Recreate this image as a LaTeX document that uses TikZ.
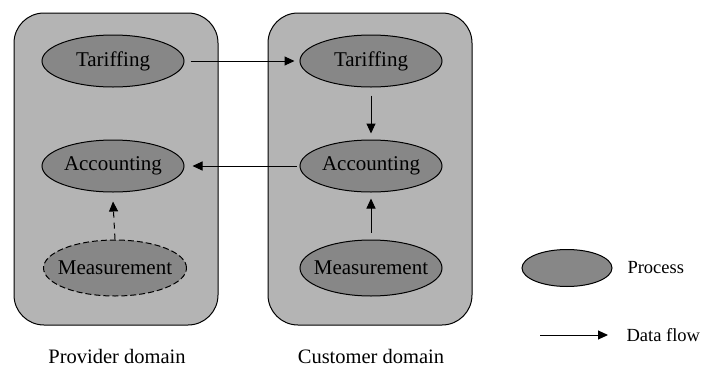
\documentclass[tikz,border=0pt]{standalone}
\usepackage{fontspec}
\setmainfont{Liberation Serif}
\usetikzlibrary{shapes.geometric,arrows.meta}
\definecolor{boxgray}{HTML}{B4B4B4}
\definecolor{procgray}{HTML}{878787}
\begin{document}
\begin{tikzpicture}[x=1pt,y=-1pt,
  domainbox/.style={draw=black, line width=1pt, fill=boxgray, rounded corners=30pt},
  proc/.style={ellipse, draw=black, line width=1pt, fill=procgray, minimum width=142pt, minimum height=52pt, inner xsep=-9pt, inner ysep=0pt, font=\rmfamily\fontsize{21}{21}\selectfont},
  flow/.style={line width=1pt, -{Triangle[length=10pt,width=9pt]}},
  lbl/.style={font=\rmfamily\fontsize{20.5}{20.5}\selectfont},
  leg/.style={font=\rmfamily\fontsize{18.5}{18.5}\selectfont, anchor=west}
]
\useasboundingbox (0,0) rectangle (702,370);
\fill[white] (0,0) rectangle (702,370);
\draw[domainbox] (14,13) rectangle (218,325);
\draw[domainbox] (268,13) rectangle (472,325);
\node[proc] (pt) at (113,61) {Tariffing};
\node[proc] (pa) at (113,166) {Accounting};
\node[proc, dashed, dash pattern=on 6pt off 3pt, minimum width=143pt, minimum height=56pt] (pm) at (115,268) {Measurement};
\node[proc] (ct) at (371,61) {Tariffing};
\node[proc] (ca) at (371,166) {Accounting};
\node[proc, minimum height=56pt] (cm) at (371,268) {Measurement};
\draw[flow] ([xshift=6pt]pt.east) -- ([xshift=-5pt]ct.west);
\draw[flow] ([xshift=-3pt]ca.west) -- ([xshift=8pt]pa.east);
\draw[flow] ([yshift=-8pt]ct.south) -- ([yshift=6pt]ca.north);
\draw[flow] ([yshift=7pt]cm.north) -- ([yshift=-6pt]ca.south);
\draw[flow, dash pattern=on 6pt off 5pt] (pm.north) -- ([yshift=-9pt]pa.south);
\node[lbl] (pl) at (117,356) {Provider domain};
\node[lbl] (cl) at (371,356) {Customer domain};
\node[proc, minimum width=90pt, minimum height=37pt] (lp) at (567,268) {};
\node[leg] (lpt) at (624,268) {Process};
\coordinate (fa) at (540,335);
\coordinate (fb) at (608,335);
\draw[flow] (fa) -- (fb);
\node[leg] (lft) at (623,335) {Data flow};
\end{tikzpicture}
\end{document}
